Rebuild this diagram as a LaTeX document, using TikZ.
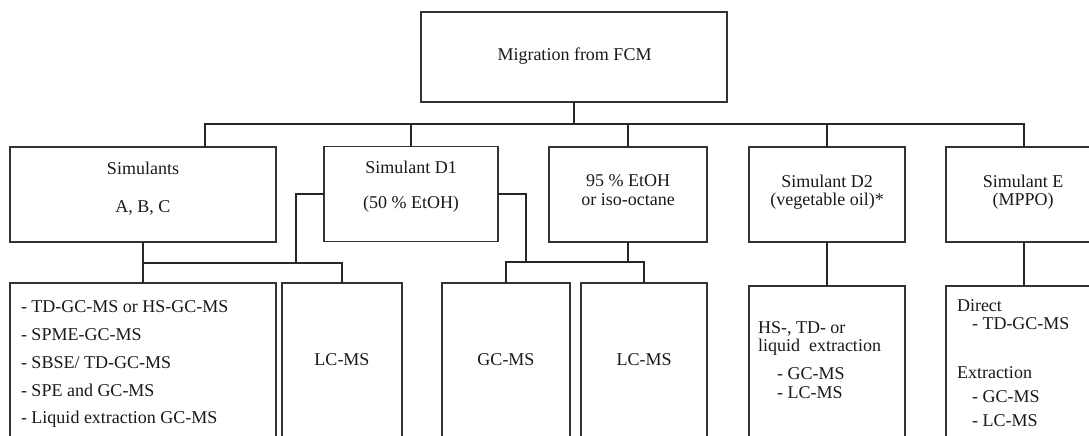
\documentclass[tikz,border=0pt]{standalone}
\usepackage{fontspec}
\setmainfont{Liberation Serif}
\begin{document}
\begin{tikzpicture}[x=1pt,y=-1pt]
\tikzset{
  box/.style={draw=black!80, line width=1.8pt, inner sep=0pt, outer sep=0pt},
  ctext/.style={inner sep=0pt, outer sep=0pt, anchor=base, font=\fontsize{18}{20}\selectfont, text=black!90},
  ltext/.style={inner sep=0pt, outer sep=0pt, anchor=base west, font=\fontsize{18}{20}\selectfont, text=black!90},
  conn/.style={draw=black!85, line width=2pt}
}
\useasboundingbox (0,0) rectangle (1089,436);
\clip (0,0) rectangle (1089,436);
\fill[white] (0,0) rectangle (1089,436);

% boxes
\node[box, minimum width=306pt, minimum height=90pt] (top) at (574,57) {};
\node[box, minimum width=266pt, minimum height=95pt] (sim) at (143,194.5) {};
\node[box, minimum width=174pt, minimum height=95pt] (d1) at (411,194) {};
\node[box, minimum width=158pt, minimum height=95pt] (p95) at (628,194.5) {};
\node[box, minimum width=156pt, minimum height=95pt] (d2) at (827,194.5) {};
\node[box, minimum width=156pt, minimum height=95pt] (e) at (1024,194.5) {};

\node[box, minimum width=266pt, minimum height=180pt] (bl) at (143,373) {};
\node[box, minimum width=120pt, minimum height=180pt] (lc1) at (342,373) {};
\node[box, minimum width=128pt, minimum height=180pt] (gc) at (506,373) {};
\node[box, minimum width=126pt, minimum height=180pt] (lc2) at (644,373) {};
\node[box, minimum width=156pt, minimum height=180pt] (d2b) at (827,376) {};
\node[box, minimum width=156pt, minimum height=180pt] (eb) at (1024,376) {};

% texts
\node[ctext] (t0) at (574.5,60) {Migration from FCM};
\node[ctext] (t1a) at (143,174) {Simulants};
\node[ctext] (t1b) at (143,212) {A, B, C};
\node[ctext] (t2a) at (411,173) {Simulant D1};
\node[ctext] (t2b) at (411,208) {(50 \% EtOH)};
\node[ctext] (t3a) at (628,186) {95 \% EtOH};
\node[ctext] (t3b) at (628,205) {or iso-octane};
\node[ctext] (t4a) at (827,187) {Simulant D2};
\node[ctext] (t4b) at (827,205) {(vegetable oil)*};
\node[ctext] (t5a) at (1023,187) {Simulant E};
\node[ctext] (t5b) at (1023,205) {(MPPO)};

\node[ltext] (b1) at (21,312) {- TD-GC-MS or HS-GC-MS};
\node[ltext] (b2) at (21,340) {- SPME-GC-MS};
\node[ltext] (b3) at (21,368) {- SBSE/ TD-GC-MS};
\node[ltext] (b4) at (21,396) {- SPE and GC-MS};
\node[ltext] (b5) at (21,423) {- Liquid extraction GC-MS};

\node[ctext] (l1) at (342,365) {LC-MS};
\node[ctext] (g1) at (506,365) {GC-MS};
\node[ctext] (l2) at (644,365) {LC-MS};

\node[ltext] (c1) at (758,333) {HS-, TD- or};
\node[ltext] (c2) at (758,351) {liquid\ \ extraction};
\node[ltext] (c3) at (777,379) {- GC-MS};
\node[ltext] (c4) at (777,398) {- LC-MS};

\node[ltext] (e1) at (957,311) {Direct};
\node[ltext] (e2) at (972,329) {- TD-GC-MS};
\node[ltext] (e3) at (957,378) {Extraction};
\node[ltext] (e4) at (972,402) {- GC-MS};
\node[ltext] (e5) at (972,426) {- LC-MS};

% junction coordinates
\coordinate (bus) at (574,124);
\coordinate (j1) at (296,263);
\coordinate (j2) at (526,262);

% connectors
\draw[conn] (top.south) -- (bus);
\draw[conn] ([xshift=62pt]sim.north) |- (bus) -| (e.north);
\draw[conn] (d1.north) -- (d1.north |- bus);
\draw[conn] (p95.north) -- (p95.north |- bus);
\draw[conn] (d2.north) -- (d2.north |- bus);

\draw[conn] (sim.south) -- (bl.north);
\draw[conn] (sim.south |- j1) -| (lc1.north);
\draw[conn] (d1.west) -| (j1);

\draw[conn] (d1.east) -| (j2);
\draw[conn] (p95.south) -- (p95.south |- j2);
\draw[conn] (gc.north) |- (j2) -| (lc2.north);

\draw[conn] (d2.south) -- (d2b.north);
\draw[conn] (e.south) -- (eb.north);
\end{tikzpicture}
\end{document}
